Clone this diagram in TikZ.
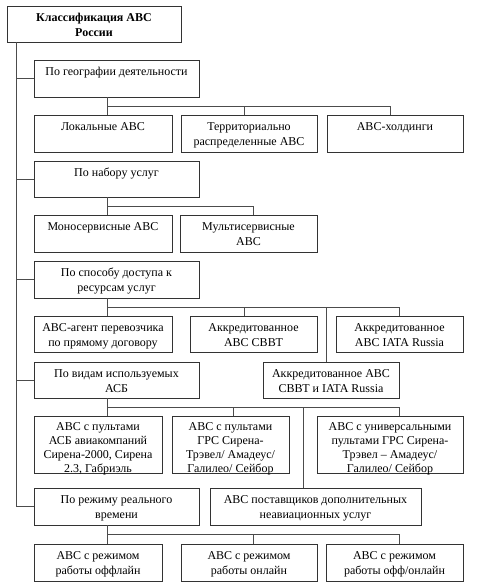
\documentclass[tikz,border=0pt]{standalone}
\usepackage{fontspec}
\setmainfont{Liberation Serif}
\usetikzlibrary{calc}
\tikzset{
  box/.style={draw=black!80, line width=0.8pt, inner sep=0pt, outer sep=0pt, anchor=north west},
  conn/.style={draw=black!70, line width=0.7pt}
}
\newcommand\bx[7][14.5]{%
  \node[box] (#2) at (#3,#4) {\parbox[c][\dimexpr#6pt-#4pt\relax][t]{\dimexpr#5pt-#3pt\relax}{\centering\fontsize{12}{#1}\selectfont\rule{0pt}{#1pt}#7\par}};}
\begin{document}
\begin{tikzpicture}[x=1pt,y=-1pt]
\useasboundingbox[fill=white] (0,0) rectangle (483,587);
\bx[15]{title}{7}{6}{181}{42}{\bfseries Классификация АВС\\России}
\bx[15.5]{geo}{34}{60}{199}{97}{По географии деятельности}
\bx[15]{lok}{34}{115}{172}{152}{Локальные АВС}
\bx[15]{ter}{181}{115}{317}{152}{Территориально\\распределенные АВС}
\bx[15]{hold}{327}{115}{463}{152}{АВС-холдинги}
\bx[15]{nab}{34}{161}{199}{197}{По набору услуг}
\bx[15]{mono}{34}{215}{172}{252}{Моносервисные АВС}
\bx[15]{multi}{180}{215}{317}{252}{Мультисервисные\\АВС}
\bx[15]{sp}{34}{261}{199}{298}{По способу доступа к\\ресурсам услуг}
\bx[15]{agent}{34}{316}{172}{352}{АВС-агент перевозчика\\по прямому договору}
\bx[15]{svvt}{190}{316}{317}{352}{Аккредитованное\\АВС СВВТ}
\bx[15]{iata}{336}{316}{463}{352}{Аккредитованное\\АВС IATA Russia}
\bx[15]{vid}{34}{362}{199}{398}{По видам используемых\\АСБ}
\bx[15]{both}{263}{362}{399}{398}{Аккредитованное АВС\\СВВТ и IATA Russia}
\bx[14]{pa}{34}{416}{162}{473}{АВС с пультами\\АСБ авиакомпаний\\Сирена-2000, Сирена\\2.3, Габриэль}
\bx[14]{pb}{172}{416}{289}{473}{АВС с пультами\\ГРС Сирена-\\Трэвел/ Амадеус/\\Галилео/ Сейбор}
\bx[14]{pc}{317}{416}{463}{473}{АВС с универсальными\\пультами ГРС Сирена-\\Трэвел – Амадеус/\\Галилео/ Сейбор}
\bx[15]{rt}{34}{488}{199}{525}{По режиму реального\\времени}
\bx[15]{post}{210}{488}{421}{525}{АВС поставщиков дополнительных\\неавиационных услуг}
\bx[15]{off}{34}{544}{162}{581}{АВС с режимом\\работы оффлайн}
\bx[15]{on}{181}{544}{317}{581}{АВС с режимом\\работы онлайн}
\bx[15]{offon}{326}{544}{463}{581}{АВС с режимом\\работы офф/онлайн}
% trunk
\coordinate (tr) at ([xshift=9pt]title.south west);
\draw[conn] (tr) |- (rt.west);
\foreach \n in {geo,nab,sp,vid} \draw[conn] (\n.west) -- (\n.west -| tr);
% geography
\coordinate (ga) at ([xshift=73pt]geo.south west);
\coordinate (gb) at ($(ga)!0.5!(ga |- lok.north)$);
\coordinate (td) at ([xshift=63pt]ter.north west);
\coordinate (hd) at ([xshift=63pt]hold.north west);
\draw[conn] (ga) -- (ga |- lok.north);
\draw[conn] (gb) -| (hd);
\draw[conn] (td) -- (td |- gb);
% services
\coordinate (na) at ([xshift=73pt]nab.south west);
\coordinate (nb) at ($(na)!0.5!(na |- mono.north)$);
\coordinate (md) at ([xshift=73pt]multi.north west);
\draw[conn] (na) -- (na |- mono.north);
\draw[conn] (nb) -| (md);
% access
\coordinate (sa) at ([xshift=73pt]sp.south west);
\coordinate (sb) at ($(sa)!0.5!(sa |- agent.north)$);
\coordinate (sd) at ([xshift=54pt]svvt.north west);
\coordinate (bd) at ([xshift=63pt]both.north west);
\coordinate (id) at ([xshift=63pt]iata.north west);
\draw[conn] (sa) -- (sa |- agent.north);
\draw[conn] (sb) -| (id);
\draw[conn] (sd) -- (sd |- sb);
\draw[conn] (bd) -- (bd |- sb);
% systems
\coordinate (va) at ([xshift=73pt]vid.south west);
\coordinate (vb) at ($(va)!0.5!(va |- pa.north)$);
\coordinate (pbd) at ([xshift=61pt]pb.north west);
\coordinate (ptd) at ([xshift=93pt]post.north west);
\coordinate (pcd) at ([xshift=82pt]pc.north west);
\draw[conn] (va) -- (va |- pa.north);
\draw[conn] (vb) -| (pcd);
\draw[conn] (pbd) -- (pbd |- vb);
\draw[conn] (ptd) -- (ptd |- vb);
% real time
\coordinate (ra) at ([xshift=73pt]rt.south west);
\coordinate (rb) at ($(ra)!0.5!(ra |- off.north)$);
\coordinate (ond) at ([xshift=72pt]on.north west);
\coordinate (ood) at ([xshift=73pt]offon.north west);
\draw[conn] (ra) -- (ra |- off.north);
\draw[conn] (rb) -| (ood);
\draw[conn] (ond) -- (ond |- rb);
\end{tikzpicture}
\end{document}
